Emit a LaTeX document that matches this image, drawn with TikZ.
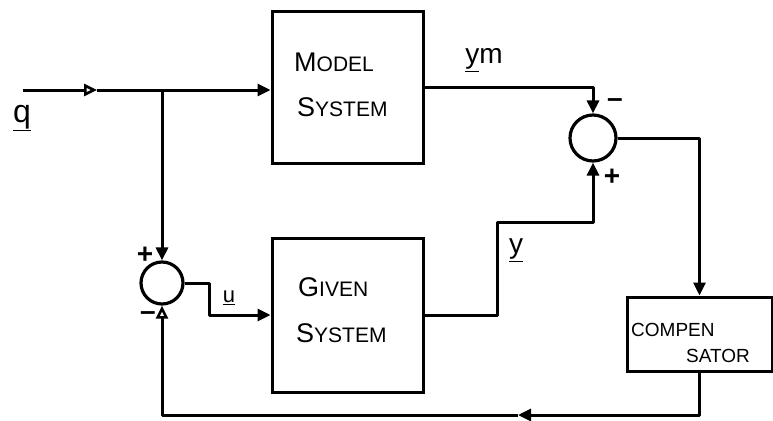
\documentclass[tikz,border=0pt]{standalone}
\usepackage{fontspec}
\setmainfont{Liberation Sans}
\usetikzlibrary{arrows.meta,calc}
\tikzset{
  wire/.style={line width=3pt, line join=round},
  arr/.style={wire, -{Triangle[width=12pt,length=13pt]}},
  oarr/.style={wire, -{Triangle[open,width=12pt,length=13pt,line width=2.6pt]}},
  sysbox/.style={draw, line width=3pt, minimum width=151pt, align=center, inner sep=0pt},
  sumnode/.style={draw, circle, line width=3.2pt, inner sep=0pt},
  lbl/.style={font=\fontsize{28}{28}\selectfont, inner sep=0pt},
  sgn/.style={font=\bfseries\fontsize{28}{28}\selectfont, inner sep=0pt},
  boxtxt/.style={font=\fontsize{21}{30}\selectfont, align=center, inner sep=0pt}
}
\begin{document}
\begin{tikzpicture}[x=1pt,y=-1pt]
\useasboundingbox (0,0) rectangle (773,420);

% blocks
\node[sysbox, minimum height=151pt] (model) at (347.5,87.5) {};
\node[sysbox, minimum height=154pt] (given) at (347.5,315) {};
\node[draw, line width=3pt, minimum width=145pt, minimum height=74pt, inner sep=0pt] (comp) at (699.5,334) {};
\node[sumnode, minimum size=46pt] (sumA) at (593,138) {};
\node[sumnode, minimum size=42pt] (sumB) at (162,283) {};

% texts in blocks
\node[boxtxt, anchor=west] (mt1) at (294,62) {{\fontsize{27}{27}\selectfont M}ODEL};
\node[boxtxt, anchor=west] (mt2) at (297,107) {{\fontsize{27}{27}\selectfont S}YSTEM};
\node[boxtxt, anchor=west] (gt1) at (298,287) {{\fontsize{27}{27}\selectfont G}IVEN};
\node[boxtxt, anchor=west] (gt2) at (296,333) {{\fontsize{27}{27}\selectfont S}YSTEM};
\node[font=\fontsize{19}{19}\selectfont, anchor=west, inner sep=0pt] (ct1) at (631,330) {COMPEN};
\node[font=\fontsize{19}{19}\selectfont, anchor=west, inner sep=0pt] (ct2) at (686,356) {SATOR};

% coordinates
\coordinate (qin) at (23,90);
\coordinate (qmid) at (97,90);
\coordinate (br) at (162,90);
\coordinate (uA) at (209,283);
\coordinate (uB) at (209,315);
\coordinate (ymA) at (593,87);
\coordinate (yA) at (497,315);
\coordinate (yB) at (497,222);
\coordinate (yC) at (593,222);
\coordinate (cA) at (699.5,138);
\coordinate (fA) at (699.5,415);
\coordinate (fmid) at (518,415);
\coordinate (fB) at (162,415);

% input
\draw[oarr] (qin) -- (qmid);
\draw[arr] (qmid) -- (br) -- (model.west |- br);
\draw[arr] (br) -- (sumB.north);
% lower sum to given
\draw[arr] (sumB.east) -- (uA) -- (uB) -- (given.west |- uB);
% model output to upper sum
\draw[arr] (model.east |- ymA) -- (ymA) -- (sumA.north);
% given output to upper sum
\draw[arr] (given.east |- yA) -- (yA) -- (yB) -- (yC) -- (sumA.south);
% upper sum to compensator
\draw[arr] (sumA.east) -- (cA) -- (comp.north);
% feedback
\draw[arr] (comp.south) -- (fA) -- (fmid);
\draw[oarr] (fmid) -- (fB) -- (sumB.south);

% labels
\node[lbl, font=\fontsize{32}{32}\selectfont] (lq) at (22,118) {\underline{q}};
\node[lbl] (lym) at (484,60) {\underline{y}m};
\node[lbl] (ly) at (516,250) {\underline{y}};
\node[lbl, font=\fontsize{22}{22}\selectfont] (lu) at (229,298) {\underline{u}};
\node[sgn] (pB) at (145,255) {+};
\node[sgn] (mB) at (148,316) {–};
\node[sgn] (mA) at (615,103) {–};
\node[sgn] (pA) at (612,177) {+};
\end{tikzpicture}
\end{document}
